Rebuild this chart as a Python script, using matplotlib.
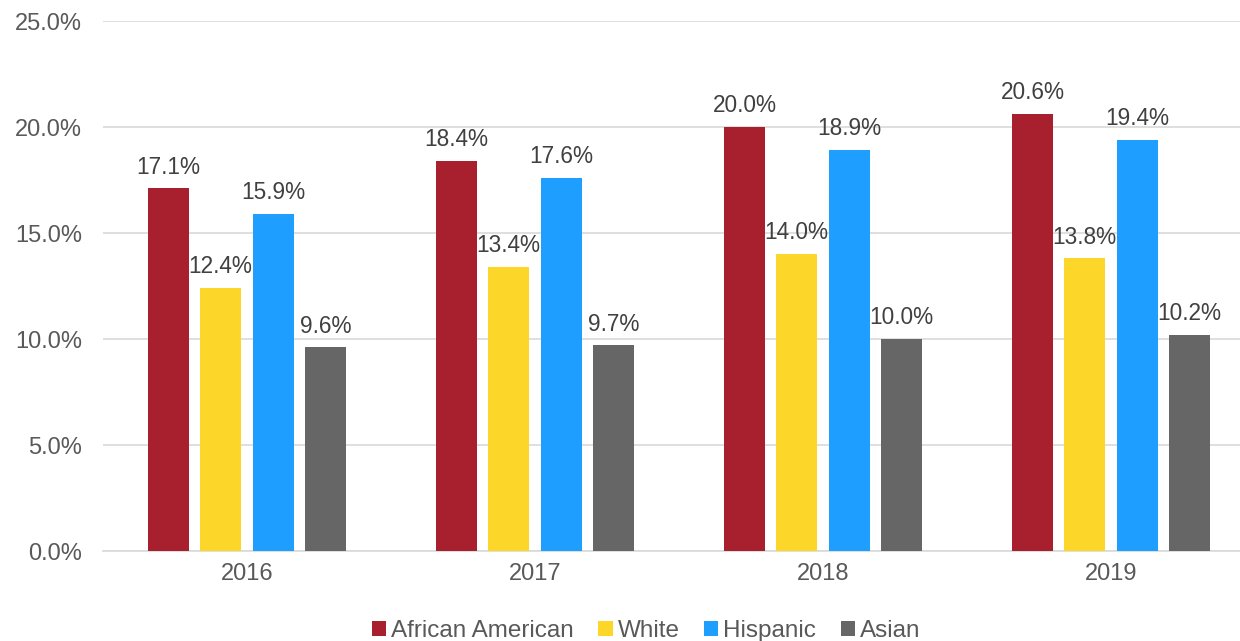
import matplotlib
matplotlib.use("Agg")
import matplotlib.pyplot as plt
import numpy as np

plt.rcParams['font.family'] = ['Liberation Sans', 'DejaVu Sans']

# data
years = ["2016", "2017", "2018", "2019"]
groups = ["African American", "White", "Hispanic", "Asian"]
african_american = [17.1, 18.4, 20.0, 20.6]
white = [12.4, 13.4, 14.0, 13.8]
hispanic = [15.9, 17.6, 18.9, 19.4]
asian = [9.6, 9.7, 10.0, 10.2]
series = [african_american, white, hispanic, asian]
colors = ["#A8202E", "#FCD72A", "#1E9FFF", "#666666"]

text_color = "#595959"

fig = plt.figure(figsize=(12.4, 6.41), dpi=100)
ax = fig.add_axes([103 / 1240, 1 - 551 / 641, (1240 - 103) / 1240, (551 - 21) / 641])

x = np.arange(len(years))
offsets = [-0.272, -0.092, 0.092, 0.272]
width = 0.142

for vals, off, col, name in zip(series, offsets, colors, groups):
    bars = ax.bar(x + off, vals, width, color=col, label=name, zorder=3)
    for b, v in zip(bars, vals):
        ax.text(b.get_x() + b.get_width() / 2, v + 0.7, f"{v:.1f}%",
                ha="center", va="baseline", fontsize=16.3, color="#404040")

ax.set_xlim(-0.5, (1240 - 247) / 288)
ax.set_ylim(0, 25)
ax.set_yticks(np.arange(0, 25.1, 5))
ax.set_yticklabels([f"{t:.1f}%" for t in np.arange(0, 25.1, 5)])
ax.set_xticks(x)
ax.set_xticklabels(years)
ax.tick_params(axis="both", length=0, labelsize=17, labelcolor=text_color)
ax.tick_params(axis="y", pad=15)
ax.tick_params(axis="x", pad=9)

ax.grid(axis="y", color="#D9D9D9", linewidth=1.2, zorder=0)
for s in ["top", "right", "left"]:
    ax.spines[s].set_visible(False)
ax.spines["bottom"].set_color("#D9D9D9")
ax.spines["bottom"].set_linewidth(1.2)

leg = fig.legend(loc="lower center", bbox_to_anchor=(0.521, -0.036), ncol=4, frameon=False,
                 fontsize=17.5, handlelength=0.6, handleheight=0.6, handletextpad=0.2,
                 columnspacing=1.0)
for t in leg.get_texts():
    t.set_color(text_color)

fig.savefig("out.png", dpi=100)
